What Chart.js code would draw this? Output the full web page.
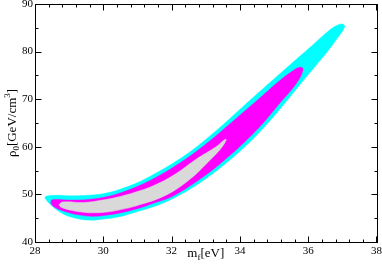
<!DOCTYPE html>
<html>
<head>
<meta charset="utf-8">
<script src="https://cdn.jsdelivr.net/npm/chart.js@4/dist/chart.umd.min.js"></script>
<style>
  html, body { margin: 0; padding: 0; background: #fff; }
  #wrap { width: 382px; height: 270px; }
</style>
</head>
<body>
<div id="wrap"><canvas id="c"></canvas></div>
<script>
// confidence regions, outline points [m_f, rho_0]
var outerRegion = [
  [28.29,49.2],[28.32,49.6],[28.62,49.8],[29.02,49.7],[29.53,49.8],[30.03,50.2],[30.54,51.2],
  [31.04,52.6],[31.55,54.5],[32.05,56.6],[32.55,59.0],[33.06,61.9],[33.67,65.7],[34.27,69.6],
  [34.88,73.5],[35.48,77.3],[36.09,81.1],[36.49,83.7],[36.79,85.3],[37.0,85.8],
  [37.07,85.2],[36.85,82.8],[36.54,79.8],[36.05,75.6],[35.66,72.2],[35.17,67.9],[34.68,63.9],
  [34.19,60.3],[33.8,57.8],[33.41,55.5],[32.82,52.4],[32.24,49.9],[31.65,47.9],[30.95,46.3],
  [30.46,45.3],[29.97,44.8],[29.58,44.6],[29.19,45.0],[28.80,46.0],[28.46,47.8],[28.29,49.2]
];
var middleRegion = [
  [28.46,48.2],[28.5,48.85],[29.0,48.8],[29.5,48.9],[30.03,49.4],[30.54,50.4],[31.04,51.8],
  [31.55,53.6],[32.05,55.7],[32.55,58.1],[33.06,60.9],[33.67,64.6],[34.17,67.7],[34.67,70.8],
  [35.15,73.8],[35.5,75.7],[35.75,76.7],[35.85,76.3],
  [35.66,73.4],[35.17,69.2],[34.68,65.0],[34.19,61.4],[33.72,58.3],[33.02,54.2],[32.05,49.7],
  [31.45,48.1],[31.04,47.1],[30.55,46.2],[30.05,45.6],[29.67,45.4],[29.28,45.7],[28.88,46.4],
  [28.55,47.4],[28.46,48.2]
];
var innerRegion = [
  [28.7,47.8],[28.8,48.4],[29.45,48.3],[29.97,48.8],[30.46,49.5],[30.95,50.5],[31.43,51.7],
  [32.05,54.0],[32.72,57.4],[33.3,60.0],[33.55,61.5],[33.6,61.5],
  [33.45,59.7],[33.0,56.3],[32.52,53.1],[31.85,49.9],[31.06,47.8],[30.45,46.7],[29.97,46.2],
  [29.48,46.2],[29.1,46.6],[28.76,47.3],[28.7,47.8]
];

var xTicks = [28, 30, 32, 34, 36, 38];
var yTicks = [40, 50, 60, 70, 80, 90];
var xMinorStep = 0.4;
var yMinorStep = 5;

function pts(a) { return a.map(function (p) { return { x: p[0], y: p[1] }; }); }

function region(data, color, order) {
  return {
    data: pts(data),
    showLine: true,
    fill: 'shape',
    backgroundColor: color,
    borderColor: color,
    borderWidth: 0.5,
    pointRadius: 0,
    tension: 0.4,
    order: order
  };
}

// draws text pieces with sub/superscripts
function drawRich(ctx, parts, cx, cy) {
  var w = 0;
  parts.forEach(function (p) { ctx.font = p.s + 'px "Liberation Serif"'; w += ctx.measureText(p.t).width; });
  var x = cx - w / 2;
  ctx.textBaseline = 'alphabetic';
  ctx.textAlign = 'left';
  parts.forEach(function (p) {
    ctx.font = p.s + 'px "Liberation Serif"';
    ctx.fillText(p.t, x, cy + (p.dy || 0));
    x += ctx.measureText(p.t).width;
  });
}

var frame = {
  id: 'frame',
  afterDraw: function (chart) {
    var ctx = chart.ctx, a = chart.chartArea, sx = chart.scales.x, sy = chart.scales.y;
    ctx.save();
    ctx.strokeStyle = '#000';
    ctx.lineWidth = 1;
    var L = Math.round(a.left) + 0.5, R = Math.round(a.right) + 0.5;
    var T = Math.round(a.top) + 0.5, B = Math.round(a.bottom) + 0.5;
    ctx.strokeRect(L, T, R - L, B - T);
    ctx.beginPath();
    var v, px, len;
    for (v = xTicks[0]; v <= xTicks[xTicks.length - 1] + 1e-6; v += xMinorStep) {
      px = Math.round(sx.getPixelForValue(v)) + 0.5;
      len = xTicks.some(function (t) { return Math.abs(t - v) < 1e-6; }) ? 6 : 3;
      ctx.moveTo(px, B); ctx.lineTo(px, B - len);
      ctx.moveTo(px, T); ctx.lineTo(px, T + len);
    }
    for (v = yTicks[0]; v <= yTicks[yTicks.length - 1] + 1e-6; v += yMinorStep) {
      px = Math.round(sy.getPixelForValue(v)) + 0.5;
      len = yTicks.indexOf(v) >= 0 ? 6 : 3;
      ctx.moveTo(L, px); ctx.lineTo(L + len, px);
      ctx.moveTo(R, px); ctx.lineTo(R - len, px);
    }
    ctx.stroke();

    ctx.fillStyle = '#000';
    drawRich(ctx, [
      { t: 'm', s: 13 }, { t: 'f', s: 9, dy: 3 }, { t: '[eV]', s: 13 }
    ], (a.left + a.right) / 2, 257);

    ctx.translate(16, (a.top + a.bottom) / 2);
    ctx.rotate(-Math.PI / 2);
    drawRich(ctx, [
      { t: 'ρ', s: 13 }, { t: '0', s: 9, dy: 3 }, { t: '[GeV/cm', s: 13 },
      { t: '3', s: 9, dy: -6 }, { t: ']', s: 13 }
    ], 0, 0);
    ctx.restore();
  }
};

new Chart(document.getElementById('c'), {
  type: 'scatter',
  data: {
    datasets: [
      region(innerRegion, '#d9d9d9', 1),
      region(middleRegion, '#ff00ff', 2),
      region(outerRegion, '#00ffff', 3)
    ]
  },
  options: {
    responsive: true,
    maintainAspectRatio: false,
    animation: false,
    events: [],
    layout: { padding: { top: 4, right: 5.5, bottom: 0, left: 0 } },
    plugins: { legend: { display: false }, tooltip: { enabled: false } },
    scales: {
      x: {
        type: 'linear', min: 28, max: 38,
        grid: { display: false, drawTicks: false },
        border: { display: false },
        ticks: {
          stepSize: 2, padding: 3, color: '#000', maxRotation: 0,
          font: { family: 'Liberation Serif', size: 11 }
        },
        afterFit: function (s) { s.height = 28; s.paddingLeft = 0; s.paddingRight = 0; }
      },
      y: {
        type: 'linear', min: 40, max: 90,
        grid: { display: false, drawTicks: false },
        border: { display: false },
        ticks: {
          stepSize: 10, padding: 2, color: '#000',
          font: { family: 'Liberation Serif', size: 11 }
        },
        afterFit: function (s) { s.width = 35; s.paddingTop = 0; s.paddingBottom = 0; }
      }
    }
  },
  plugins: [frame]
});
</script>
</body>
</html>
